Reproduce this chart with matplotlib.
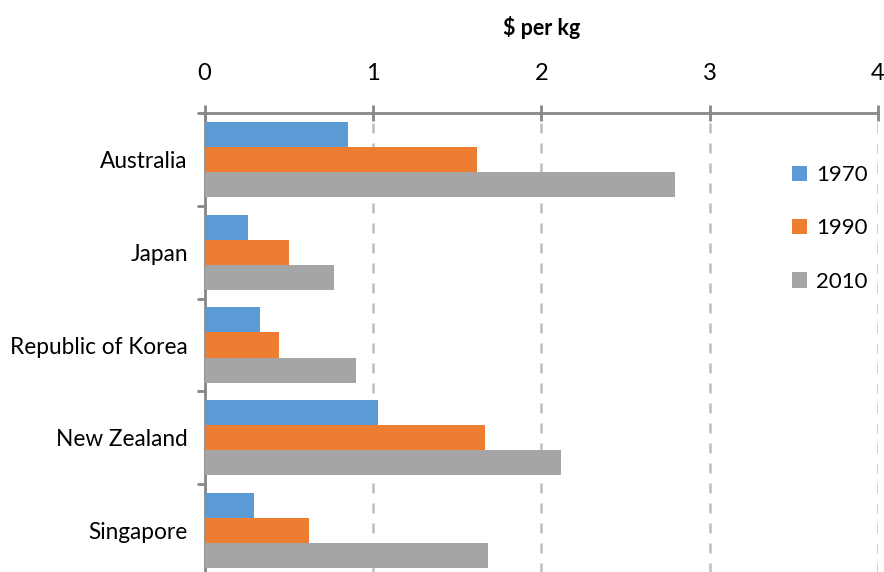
import numpy as np
import matplotlib
matplotlib.use("Agg")
import matplotlib.pyplot as plt

plt.rcParams['font.family'] = ['Lato', 'DejaVu Sans']

countries = ["Australia", "Japan", "Republic of Korea", "New Zealand", "Singapore"]
years = ["1970", "1990", "2010"]
v1970 = [0.85, 0.26, 0.33, 1.03, 0.295]
v1990 = [1.62, 0.50, 0.44, 1.665, 0.62]
v2010 = [2.795, 0.77, 0.90, 2.12, 1.685]
colors = ["#5B9BD5", "#ED7D31", "#A5A5A5"]

W, H = 884, 572
fig = plt.figure(figsize=(W / 100, H / 100), dpi=100)
# axes placed in pixel terms: x 204.5 -> 878, y 113 -> 577
ax = fig.add_axes([204.5 / W, (H - 577) / H, (878 - 204.5) / W, (577 - 113) / H])

y = np.arange(len(countries))
bh = 0.27
for k, (vals, lab, col) in enumerate(zip([v1970, v1990, v2010], years, colors)):
    ax.barh(y + (k - 1) * bh, vals, height=bh, color=col, label=lab, zorder=3)

ax.set_xlim(0, 4)
ax.set_ylim(len(countries) - 0.5, -0.5)
ax.xaxis.tick_top()
ax.xaxis.set_label_position('top')
ax.set_xticks([0, 1, 2, 3, 4])
ax.set_xticklabels(["0", "1", "2", "3", "4"])
ax.tick_params(axis='x', direction='inout', length=12, width=2, color='#868686',
               labelsize=17, pad=15, labelcolor='black')
ax.set_xlabel("$ per kg", fontsize=15.5, fontweight='bold', labelpad=20)

# category boundaries as major ticks, names as minor ticks
ax.set_yticks(np.arange(-0.5, len(countries)))
ax.set_yticklabels([])
ax.set_yticks(y, minor=True)
ax.set_yticklabels(countries, minor=True)
ax.tick_params(axis='y', which='major', direction='out', length=6, width=2, color='#868686')
ax.tick_params(axis='y', which='minor', length=0, labelsize=16.3, pad=12)

ax.grid(axis='x', linestyle=(0, (4, 4)), color='#BFBFBF', linewidth=1.8, zorder=0)
for s in ['right', 'bottom']:
    ax.spines[s].set_visible(False)
for s in ['left', 'top']:
    ax.spines[s].set_color('#868686')
    ax.spines[s].set_linewidth(2)
ax.spines['top'].set_zorder(4)

ax.legend(loc='upper left', bbox_to_anchor=(792 / W, 1 - 165 / H),
          bbox_transform=fig.transFigure, frameon=False, fontsize=16,
          handlelength=0.68, handleheight=0.68, handletextpad=0.42,
          labelspacing=1.5, borderpad=0, borderaxespad=0)

fig.savefig("out.png", dpi=100)
